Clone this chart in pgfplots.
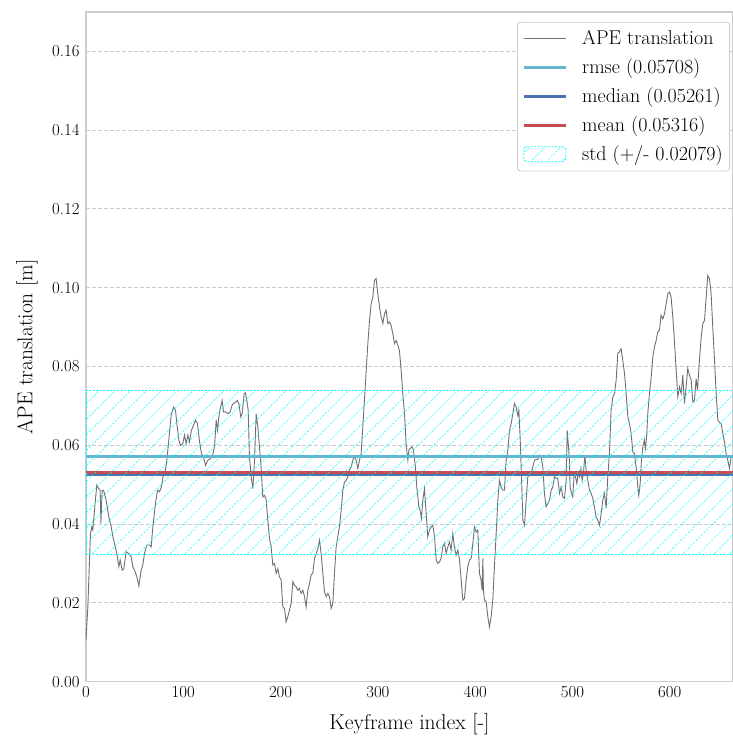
\documentclass[border=0pt]{standalone}
\usepackage{fontspec}
\usepackage{pgfplots}
\pgfplotsset{compat=1.18}
\usetikzlibrary{patterns.meta}
\definecolor{rmsec}{HTML}{64B5CD}
\definecolor{medc}{HTML}{4C72B0}
\definecolor{meanc}{HTML}{C44E52}
\definecolor{gridc}{HTML}{CCCCCC}
\definecolor{linec}{HTML}{707070}
\definecolor{stdc}{HTML}{00FFFF}
\pgfplotsset{stdlegend/.style={legend image code/.code={\draw[##1] (0pt,-7.5pt) rectangle (42pt,7.5pt);}}}
\begin{document}
\begin{tikzpicture}
\begin{axis}[
  name=ax,
  scale only axis,
  width=647pt, height=669.8pt,
  xmin=0, xmax=665, ymin=0, ymax=0.17,
  xtick={0,100,200,300,400,500,600},
  ytick={0,0.02,0.04,0.06,0.08,0.10,0.12,0.14,0.16},
  scaled y ticks=false,
  /pgf/number format/assume math mode=true,
  yticklabel style={xshift=-3pt, /pgf/number format/.cd, fixed, fixed zerofill, precision=2},
  xticklabel style={yshift=-1.5pt, /pgf/number format/.cd, fixed, precision=0},
  major tick length=0pt,
  tick style={draw=none},
  ymajorgrids,
  grid style={gridc, dash pattern=on 4pt off 2pt, line width=0.9pt},
  axis line style={gridc, line width=1.3pt},
  tick label style={font=\fontsize{16.8}{20}\selectfont},
  label style={font=\fontsize{21.5}{25}\selectfont},
  xlabel={Keyframe index [-]},
  ylabel={APE translation [m]},
  xlabel style={at={(axis description cs:0.5,-0.063)}, anchor=center},
  ylabel style={at={(axis description cs:-0.091,0.5)}, anchor=center},
  legend cell align=left,
  legend style={at={(rel axis cs:0.9954,0.985)}, anchor=north east,
    draw=gridc, line width=0.8pt, rounded corners=3pt, fill=white,
    font=\fontsize{20}{24}\selectfont, row sep=8.5pt, column sep=13pt,
    inner xsep=5pt, inner ysep=6.5pt},
  legend image code/.code={\draw[#1] (0pt,0pt) -- (42pt,0pt);},
]
\addplot[linec, line width=0.9pt] coordinates {
(0,0.0105) (1.9,0.0190) (4.6,0.0376) (6.0,0.0393) (7.0,0.0385) (8.7,0.0435)
(11.1,0.0499) (13.2,0.0490) (14.6,0.0486) (15.3,0.0402) (16.6,0.0486) (18.0,0.0486)
(20.7,0.0461) (23.5,0.0418) (25.9,0.0393) (27.6,0.0368) (29.3,0.0351) (31.7,0.0325)
(33.8,0.0292) (35.1,0.0309) (37.2,0.0283) (38.9,0.0287) (41.3,0.0330) (44.0,0.0325)
(46.4,0.0317) (48.1,0.0292) (49.9,0.0283) (52.3,0.0266) (54.3,0.0243) (56.7,0.0283)
(58.4,0.0296) (60.1,0.0325) (62.5,0.0347) (65.3,0.0347) (67.0,0.0342) (68.7,0.0393)
(71.4,0.0452) (73.5,0.0486) (75.5,0.0482) (77.6,0.0495) (79.7,0.0528) (81.7,0.0537)
(83.1,0.0562) (85.1,0.0613) (87.5,0.0676) (89.9,0.0697) (92.0,0.0689) (93.4,0.0655)
(95.4,0.0613) (97.1,0.0600) (99.5,0.0604) (101.2,0.0626) (103.0,0.0604) (104.7,0.0626)
(106.4,0.0609) (108.4,0.0638) (110.5,0.0651) (112.6,0.0664) (114.6,0.0655) (116.7,0.0609)
(118.7,0.0579) (120.8,0.0571) (122.8,0.0549) (125.2,0.0562) (127.6,0.0566) (129.7,0.0571)
(132.1,0.0596) (133.8,0.0664) (135.2,0.0638) (136.5,0.0672) (137.9,0.0693) (140.0,0.0714)
(141.3,0.0685) (143.4,0.0685) (145.8,0.0680) (148.2,0.0685) (150.2,0.0702) (151.6,0.0706)
(153.7,0.0710) (155.7,0.0714) (157.1,0.0706) (159.1,0.0672) (160.5,0.0680) (162.6,0.0731)
(163.9,0.0733) (165.3,0.0714) (166.7,0.0689) (168.0,0.0571) (169.8,0.0520) (171.5,0.0490)
(173.2,0.0562) (174.9,0.0680) (176.6,0.0647) (178.3,0.0596) (180.0,0.0545) (181.7,0.0469)
(183.5,0.0473) (185.2,0.0461) (186.9,0.0410) (188.6,0.0363) (190.3,0.0342) (192.0,0.0296)
(193.7,0.0300) (195.5,0.0275) (197.2,0.0287) (198.9,0.0266) (200.6,0.0258) (202.3,0.0190)
(204.0,0.0186) (205.7,0.0152) (207.4,0.0165) (209.2,0.0182) (210.9,0.0199) (212.6,0.0254)
(214.3,0.0245) (216.0,0.0241) (217.7,0.0232) (219.4,0.0237) (221.1,0.0224) (222.9,0.0232)
(224.6,0.0216) (226.3,0.0190) (228.0,0.0232) (229.7,0.0249) (231.4,0.0271) (233.1,0.0275)
(234.9,0.0313) (236.6,0.0325) (238.3,0.0338) (240.0,0.0359) (241.7,0.0325) (243.4,0.0275)
(245.1,0.0228) (246.8,0.0216) (248.6,0.0224) (250.3,0.0216) (252.0,0.0186) (253.7,0.0199)
(255.4,0.0275) (257.1,0.0342) (258.8,0.0368) (260.5,0.0393) (262.3,0.0435) (264.0,0.0486)
(265.7,0.0507) (267.4,0.0511) (269.1,0.0520) (270.8,0.0537) (272.5,0.0545) (274.2,0.0562)
(276.0,0.0571) (277.7,0.0562) (279.4,0.0541) (281.1,0.0562) (282.8,0.0579) (284.5,0.0647)
(286.2,0.0714) (288.0,0.0790) (289.7,0.0858) (291.4,0.0917) (293.1,0.0959) (294.8,0.0976)
(296.5,0.1019) (298.2,0.1023) (299.9,0.0985) (301.7,0.0951) (303.4,0.0926) (305.1,0.0909)
(306.8,0.0934) (308.5,0.0943) (310.2,0.0909) (311.9,0.0913) (313.6,0.0904) (315.4,0.0883)
(317.1,0.0858) (318.8,0.0866) (320.5,0.0854) (322.2,0.0840) (323.9,0.0790) (325.6,0.0731)
(327.4,0.0680) (329.1,0.0600) (330.8,0.0562) (331.8,0.0587) (333.2,0.0592) (335.2,0.0596)
(336.6,0.0587) (338.6,0.0545) (340.0,0.0494) (342.1,0.0444) (343.4,0.0435) (344.8,0.0414)
(346.2,0.0461) (347.9,0.0490) (349.6,0.0427) (351.3,0.0368) (353.0,0.0385) (354.8,0.0393)
(356.5,0.0397) (358.2,0.0368) (359.9,0.0309) (361.6,0.0300) (363.3,0.0304) (365.0,0.0313)
(366.7,0.0342) (368.5,0.0351) (370.2,0.0325) (371.9,0.0342) (373.6,0.0355) (375.3,0.0334)
(377.0,0.0376) (378.7,0.0342) (380.4,0.0321) (382.2,0.0334) (383.9,0.0309) (385.6,0.0258)
(387.3,0.0207) (389.0,0.0211) (390.7,0.0258) (392.4,0.0292) (394.2,0.0309) (395.9,0.0313)
(397.6,0.0351) (399.3,0.0393) (401.0,0.0380) (402.7,0.0385) (404.4,0.0275) (406.1,0.0258)
(407.2,0.0232) (407.9,0.0313) (408.5,0.0232) (409.6,0.0207) (411.3,0.0203) (413.0,0.0165)
(414.7,0.0139) (416.4,0.0165) (418.1,0.0207) (419.8,0.0292) (421.6,0.0376) (423.3,0.0461)
(425.0,0.0511) (426.7,0.0494) (428.4,0.0486) (430.1,0.0486) (431.8,0.0562) (433.6,0.0587)
(435.3,0.0638) (437.0,0.0655) (438.7,0.0680) (440.4,0.0706) (442.1,0.0697) (443.8,0.0676)
(444.9,0.0689) (446.2,0.0621) (447.6,0.0520) (449.0,0.0410) (450.7,0.0397) (452.4,0.0461)
(454.1,0.0520) (455.8,0.0524) (457.5,0.0528) (459.2,0.0545) (461.0,0.0562) (462.7,0.0564)
(464.4,0.0564) (466.1,0.0575) (467.8,0.0571) (469.5,0.0545) (471.2,0.0478) (472.9,0.0444)
(474.7,0.0452) (476.4,0.0461) (478.1,0.0486) (479.8,0.0494) (481.5,0.0520) (483.2,0.0516)
(484.9,0.0516) (486.7,0.0478) (488.4,0.0494) (490.1,0.0469) (491.8,0.0465) (493.5,0.0511)
(494.6,0.0638) (495.9,0.0596) (496.9,0.0562) (497.6,0.0494) (499.0,0.0478) (500.3,0.0469)
(501.7,0.0528) (503.1,0.0520) (504.5,0.0503) (505.8,0.0528) (507.2,0.0520) (508.6,0.0541)
(509.9,0.0511) (511.3,0.0528) (512.7,0.0575) (514.1,0.0537) (515.8,0.0511) (517.5,0.0486)
(519.2,0.0478) (520.9,0.0465) (522.6,0.0444) (524.3,0.0418) (526.0,0.0410) (527.8,0.0397)
(529.5,0.0427) (531.2,0.0461) (532.9,0.0478) (534.6,0.0440) (536.3,0.0520) (538.0,0.0579)
(539.7,0.0689) (541.5,0.0723) (543.2,0.0731) (544.9,0.0765) (546.6,0.0833) (548.3,0.0837)
(550.0,0.0845) (551.7,0.0816) (553.5,0.0782) (555.2,0.0731) (556.9,0.0672) (558.6,0.0655)
(560.3,0.0630) (562.0,0.0583) (563.7,0.0579) (565.4,0.0545) (567.2,0.0494) (568.2,0.0473)
(569.6,0.0503) (570.9,0.0562) (572.3,0.0596) (574.0,0.0613) (575.0,0.0587) (576.4,0.0630)
(577.4,0.0680) (579.1,0.0731) (580.9,0.0773) (582.6,0.0824) (584.3,0.0850) (586.0,0.0866)
(587.7,0.0888) (589.4,0.0892) (591.1,0.0930) (592.9,0.0921) (594.6,0.0934) (596.3,0.0959)
(598.0,0.0985) (599.7,0.0989) (601.4,0.0976) (603.1,0.0926) (604.8,0.0866) (606.6,0.0790)
(608.3,0.0723) (610.0,0.0748) (611.7,0.0731) (613.4,0.0778) (615.1,0.0706) (616.8,0.0748)
(618.5,0.0795) (620.3,0.0778) (622.0,0.0765) (623.7,0.0710) (625.4,0.0714) (627.1,0.0769)
(628.5,0.0740) (630.5,0.0816) (632.3,0.0875) (634.0,0.0909) (635.7,0.0917) (637.4,0.0976)
(639.1,0.1031) (640.8,0.1023) (642.5,0.0985) (644.2,0.0900) (646.0,0.0816) (647.7,0.0731)
(649.4,0.0664) (651.1,0.0658) (652.8,0.0655) (654.5,0.0630) (656.2,0.0609) (657.9,0.0579)
(659.7,0.0562) (661.4,0.0541) (663.1,0.0571) (665.0,0.0575)
};
\addlegendentry{APE translation}
\addplot[rmsec, line width=2.8pt] coordinates {(0,0.05708) (665,0.05708)};
\addlegendentry{rmse (0.05708)}
\addplot[medc, line width=2.8pt] coordinates {(0,0.05261) (665,0.05261)};
\addlegendentry{median (0.05261)}
\addplot[meanc, line width=2.8pt] coordinates {(0,0.05316) (665,0.05316)};
\addlegendentry{mean (0.05316)}
\addplot[draw=stdc, line width=0.8pt, dash pattern=on 2pt off 1.5pt,
  pattern={Lines[angle=45,distance=11pt,line width=0.5pt]}, pattern color=stdc,
  stdlegend]
  coordinates {(0,0.03237) (665,0.03237) (665,0.07395) (0,0.07395) (0,0.03237)};
\addlegendentry{std (+/- 0.02079)}
\end{axis}
\pgfresetboundingbox
\path[use as bounding box] ([xshift=-86pt,yshift=-57.3pt]ax.south west) rectangle ([yshift=11.9pt]ax.north east);
\end{tikzpicture}
\end{document}
